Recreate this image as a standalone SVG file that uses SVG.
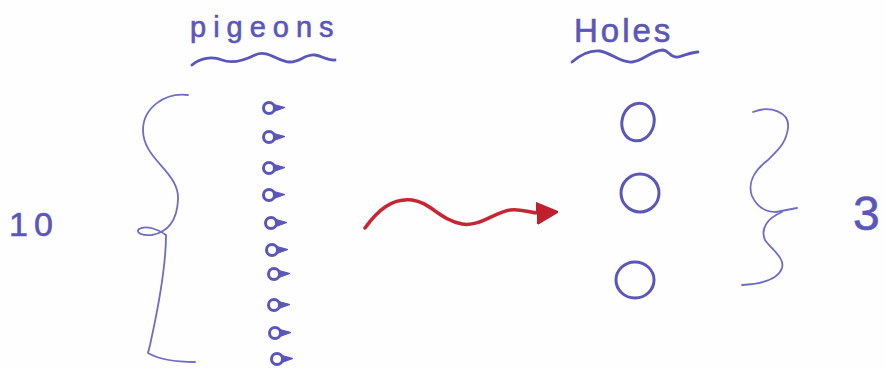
<svg xmlns="http://www.w3.org/2000/svg" width="886" height="368" viewBox="0 0 886 368">
<style>
.ink{fill:none;stroke:#5a56ba;stroke-width:2.8;stroke-linecap:round;stroke-linejoin:round}
.thin{fill:none;stroke:#6f6cc4;stroke-width:1.8;stroke-linecap:round;stroke-linejoin:round}
.txt{fill:#5a56ba;stroke:#5a56ba;stroke-width:0.6;font-family:"Liberation Sans",Arial,sans-serif}
.pig{fill:none;stroke:#5a56ba;stroke-width:3}
.tail{fill:#5a56ba;stroke:#5a56ba;stroke-width:1;stroke-linejoin:round}
.hole{fill:none;stroke:#5a56ba;stroke-width:3}
.red{fill:none;stroke:#c82433;stroke-width:3.5;stroke-linecap:round}
</style>
<defs>
<g id="pigeonShape">
<circle class="pig" cx="0" cy="0" r="5.5"/>
<path class="tail" d="M5,-3.5 L16,-0.5 L5,3.5 Z"/>
</g>
<marker id="redHead" viewBox="0 0 10 10" refX="3" refY="5" markerWidth="6" markerHeight="8" orient="auto" markerUnits="strokeWidth">
<path d="M0,0 L10,5 L0,10 Z" fill="#c01f2e" stroke="#c01f2e" stroke-width="1" stroke-linejoin="round"/>
</marker>
</defs>
<rect width="886" height="368" fill="#fefefe"/>

<g id="pigeons-title">
<text class="txt" x="190" y="37" font-size="29" letter-spacing="7">pigeons</text>
<path class="ink" d="M192,65 C200,58 212,56 222,60 C232,64 245,60 255,55 C268,49 278,62 290,62 C300,62 305,54 315,55 C322,56 328,61 335,60"/>
</g>

<g id="holes-title">
<text class="txt" x="574" y="42" font-size="33" letter-spacing="3">Holes</text>
<path class="ink" d="M572,62 C580,55 590,50 600,51 C612,53 620,63 632,62 C643,61 652,50 663,50 C670,51 670,58 678,57 C686,55 692,52 698,52"/>
</g>

<g id="label-10">
<text class="txt" x="9" y="236" font-size="34" letter-spacing="6" stroke-width="0.2">10</text>
</g>

<g id="brace-left">
<path class="thin" d="M188,95 C165,92 143,108 143,130 C143,160 180,172 178,200 C177,220 168,232 152,235 C143,236 135,233 139,229 C146,225 158,229 166,235 C166,262 160,300 150,345 L148,353 C160,360 180,362 195,362"/>
</g>

<g id="pigeon-1"><use href="#pigeonShape" x="269" y="108"/></g>
<g id="pigeon-2"><use href="#pigeonShape" x="269" y="137"/></g>
<g id="pigeon-3"><use href="#pigeonShape" x="269" y="168"/></g>
<g id="pigeon-4"><use href="#pigeonShape" x="269" y="195"/></g>
<g id="pigeon-5"><use href="#pigeonShape" x="271" y="223"/></g>
<g id="pigeon-6"><use href="#pigeonShape" x="272" y="250"/></g>
<g id="pigeon-7"><use href="#pigeonShape" x="274" y="274"/></g>
<g id="pigeon-8"><use href="#pigeonShape" x="274" y="305"/></g>
<g id="pigeon-9"><use href="#pigeonShape" x="275" y="333"/></g>
<g id="pigeon-10"><use href="#pigeonShape" x="277" y="359"/></g>

<g id="hole-1"><ellipse class="hole" cx="638" cy="122" rx="16" ry="19" transform="rotate(15 638 122)"/></g>
<g id="hole-2"><ellipse class="hole" cx="640" cy="193" rx="19" ry="19"/></g>
<g id="hole-3"><ellipse class="hole" cx="635" cy="280" rx="19" ry="18"/></g>

<g id="brace-right">
<path class="thin" d="M753,112 C770,105 790,112 788,128 C786,145 775,152 768,160 C752,172 748,185 752,196 C757,207 765,212 776,212 L797,208"/>
<path class="thin" d="M782,212 C768,218 760,228 765,240 C772,250 785,258 782,268 C778,280 760,284 742,285"/>
</g>

<g id="label-3">
<text class="txt" x="853" y="230" font-size="48" stroke-width="0">3</text>
</g>

<g id="connectors">
<path class="red" marker-end="url(#redHead)" d="M365,228 C378,210 392,198 412,200 C430,202 440,220 462,224 C480,227 495,212 510,210 C522,208 530,214 543,213"/>
</g>
</svg>
